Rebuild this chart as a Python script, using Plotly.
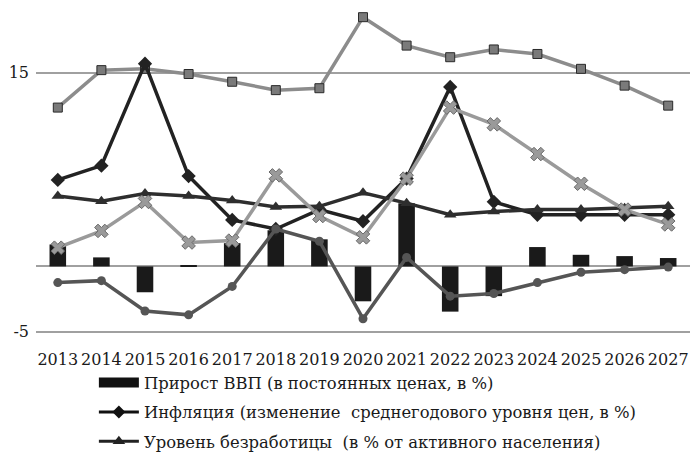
import plotly.graph_objects as go

years = [str(y) for y in range(2013, 2028)]
y_tick_values = [-5, 15]
y_tick_labels = ["-5", "15"]

gdp_growth = [1.7, 0.7, -2.0, 0.1, 1.8, 2.8, 2.1, -2.7, 4.9, -3.5, -2.3, 1.5, 0.9, 0.8, 0.65]
inflation = [6.7, 7.8, 15.7, 7.0, 3.6, 2.9, 4.4, 3.5, 6.8, 13.9, 5.0, 4.0, 4.0, 4.0, 4.0]
unemployment = [5.45, 5.05, 5.65, 5.45, 5.1, 4.6, 4.65, 5.7, 4.9, 4.0, 4.25, 4.4, 4.4, 4.5, 4.65]
series_squares = [12.3, 15.2, 15.3, 14.9, 14.3, 13.65, 13.8, 19.3, 17.1, 16.2, 16.8, 16.45, 15.3, 14.0, 12.45]
series_x = [1.45, 2.75, 5.0, 1.85, 2.0, 7.05, 3.9, 2.25, 6.8, 12.3, 11.0, 8.7, 6.4, 4.4, 3.25]
series_circles = [-1.25, -1.1, -3.45, -3.75, -1.55, 2.9, 1.95, -4.05, 0.7, -2.3, -2.1, -1.25, -0.45, -0.25, -0.05]

name_gdp = "Прирост ВВП (в постоянных ценах, в %)"
name_infl = "Инфляция (изменение  среднегодового уровня цен, в %)"
name_unemp = "Уровень безработицы  (в % от активного населения)"

serif = "DejaVu Serif"

fig = go.Figure()

fig.add_trace(go.Bar(x=years, y=gdp_growth, marker=dict(color="#1a1a1a", line=dict(width=0)),
                     width=0.38, showlegend=False, name=name_gdp))

fig.add_trace(go.Scatter(x=years, y=series_squares, mode="lines+markers",
                         line=dict(color="#8c8c8c", width=3.5),
                         marker=dict(symbol="square", size=9, color="#7a7a7a",
                                     line=dict(color="#2a2a2a", width=1)),
                         showlegend=False))
fig.add_trace(go.Scatter(x=years, y=inflation, mode="lines+markers",
                         line=dict(color="#222222", width=3.5),
                         marker=dict(symbol="diamond", size=11, color="#222222"),
                         showlegend=False))
fig.add_trace(go.Scatter(x=years, y=unemployment, mode="lines+markers",
                         line=dict(color="#2e2e2e", width=3.5),
                         marker=dict(symbol="triangle-up", size=11, color="#2e2e2e"),
                         showlegend=False))
fig.add_trace(go.Scatter(x=years, y=series_x, mode="lines+markers",
                         line=dict(color="#9a9a9a", width=3.5),
                         marker=dict(symbol="x", size=12, color="#9a9a9a",
                                     line=dict(color="#6a6a6a", width=1)),
                         showlegend=False))
fig.add_trace(go.Scatter(x=years, y=series_circles, mode="lines+markers",
                         line=dict(color="#555555", width=3.5),
                         marker=dict(symbol="circle", size=9, color="#555555"),
                         showlegend=False))

# legend-only entries
fig.add_trace(go.Scatter(x=[None], y=[None], mode="lines", name=name_gdp,
                         line=dict(color="#111111", width=10), legendgroup="a"))
fig.add_trace(go.Scatter(x=[None], y=[None], mode="lines+markers", name=name_infl,
                         line=dict(color="#111111", width=3),
                         marker=dict(symbol="diamond", size=10, color="#111111"), legendgroup="b"))
fig.add_trace(go.Scatter(x=[None], y=[None], mode="lines+markers", name=name_unemp,
                         line=dict(color="#222222", width=3),
                         marker=dict(symbol="triangle-up", size=11, color="#222222"), legendgroup="c"))

fig.update_layout(
    width=690, height=452,
    margin=dict(l=36, r=0, t=0, b=121, autoexpand=False),
    paper_bgcolor="white", plot_bgcolor="white",
    font=dict(family=serif, color="#1a1a1a"),
    bargap=0.62,
    legend=dict(x=0.0885, y=-0.104, xanchor="left", yanchor="top", orientation="v",
                font=dict(family=serif, size=16.4, color="#1a1a1a"),
                itemwidth=40, tracegroupgap=5, bgcolor="rgba(0,0,0,0)"),
    xaxis=dict(type="category", range=[-0.5, 14.5], showgrid=False, showline=True,
               linecolor="#a0a0a0", linewidth=1.5,
               ticks="", tickangle=0, tickfont=dict(family=serif, size=16, color="#1a1a1a"),
               ticklabelstandoff=13, automargin=False),
    yaxis=dict(range=[-5, 20.63], tickmode="array", tickvals=y_tick_values, ticktext=y_tick_labels,
               showgrid=True, gridcolor="#a0a0a0", gridwidth=1.5,
               zeroline=True, zerolinecolor="#a0a0a0", zerolinewidth=1.5,
               ticks="", tickfont=dict(family=serif, size=16, color="#1a1a1a"),
               ticklabelstandoff=6, automargin=False),
)

fig.write_html("out.html", config={"displayModeBar": False},
               post_script="document.body.style.margin='0';document.body.style.overflow='hidden';")
